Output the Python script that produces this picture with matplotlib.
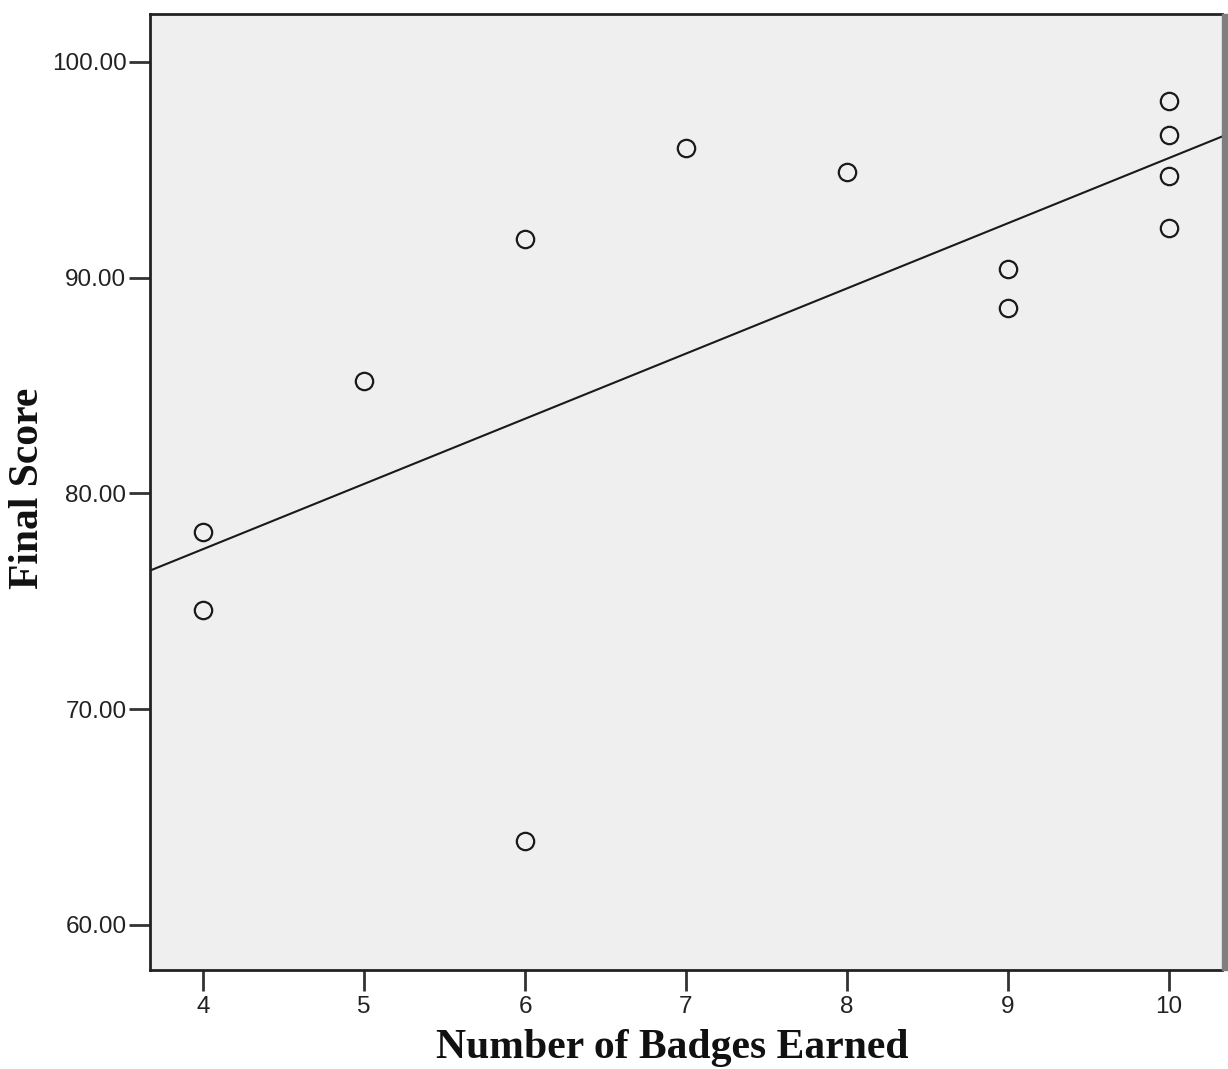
import numpy as np
import matplotlib
matplotlib.use('Agg')
import matplotlib.pyplot as plt
from matplotlib.patches import Rectangle

# Dati
badges = [4, 4, 5, 6, 6, 7, 8, 9, 9, 10, 10, 10, 10]
scores = [78.2, 74.6, 85.2, 91.8, 63.9, 96.0, 94.9, 90.4, 88.6, 98.2, 96.6, 94.7, 92.3]
x_ticks = [4, 5, 6, 7, 8, 9, 10]
y_ticks = [60, 70, 80, 90, 100]

fig = plt.figure(figsize=(12.28, 10.69), dpi=100)
ax = fig.add_axes([150 / 1228, 99 / 1069, 1072 / 1228, 956 / 1069])
ax.set_facecolor('#efefef')

ax.set_xlim(3.67, 10.33)
ax.set_ylim(57.91, 102.22)

# retta di regressione
slope, intercept = np.polyfit(badges, scores, 1)
xl = np.array(ax.get_xlim())
ax.plot(xl, intercept + slope * xl, color='#1a1a1a', linewidth=1.5, zorder=2)

ax.plot(badges, scores, linestyle='none', marker='o', markersize=12.5,
        markerfacecolor='none', markeredgecolor='#1a1a1a', markeredgewidth=1.6, zorder=3)

ax.set_xticks(x_ticks)
ax.set_xticklabels([str(v) for v in x_ticks])
ax.set_yticks(y_ticks)
ax.set_yticklabels([f'{v:.2f}' for v in y_ticks])
ax.tick_params(axis='both', length=15, width=2, color='#333333', labelsize=17.5,
               labelcolor='#222222')
ax.tick_params(axis='y', pad=2)
ax.tick_params(axis='x', pad=4)
for lab in ax.get_xticklabels() + ax.get_yticklabels():
    lab.set_fontfamily('Liberation Sans')

for side in ['left', 'bottom', 'top']:
    ax.spines[side].set_linewidth(2)
    ax.spines[side].set_color('#222222')
ax.spines['right'].set_visible(False)

fig.text(672 / 1228, 1 - 1048 / 1069, 'Number of Badges Earned', ha='center', va='center',
         fontsize=30, fontweight='bold', family='Liberation Serif', color='#111111')
fig.text(28 / 1228, 1 - 488 / 1069, 'Final Score', ha='center', va='center', rotation=90,
         fontsize=30, fontweight='bold', family='Liberation Serif', color='#111111')

# barra grigia sul bordo destro
fig.patches.append(Rectangle((1222 / 1228, 99 / 1069), 6 / 1228, 956 / 1069,
                             transform=fig.transFigure, color='#7f7f7f', zorder=5))

fig.savefig('out.png', dpi=100)
